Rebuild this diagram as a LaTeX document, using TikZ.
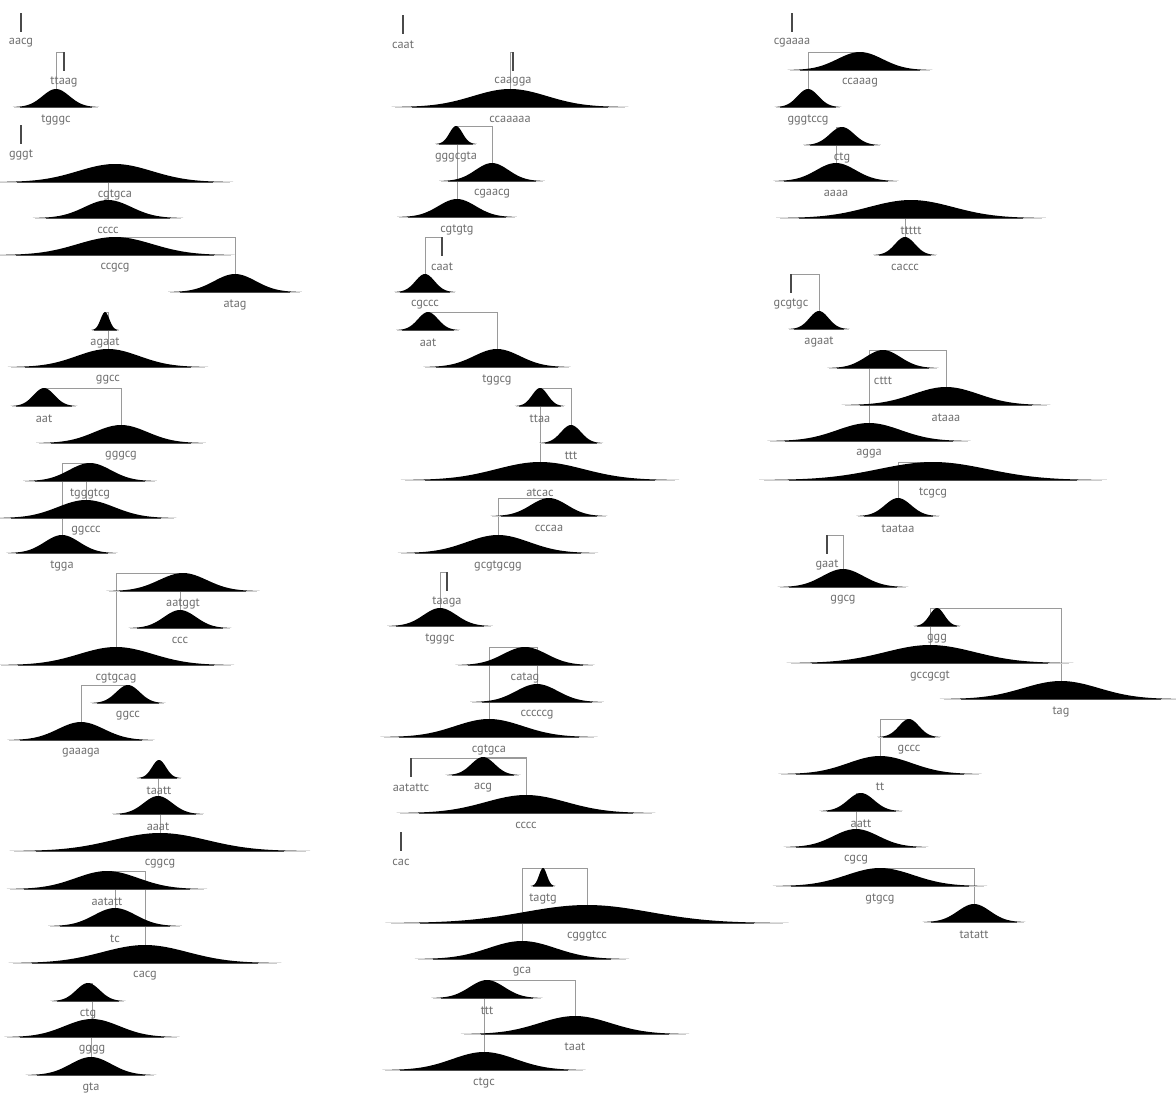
\documentclass[tikz,border=0pt]{standalone}
\usepackage{fontspec}
\setsansfont{PT Sans}
\usepackage{tikz}
\usetikzlibrary{backgrounds}
\definecolor{inkDark}{HTML}{000000}
\definecolor{labGray}{HTML}{6E6E6E}
\definecolor{linkGray}{HTML}{9A9A9A}
\definecolor{stubGray}{HTML}{4A4A4A}
\tikzset{
  seqlabel/.style={font=\sffamily\fontsize{7}{8}\selectfont, text=labGray,
    inner sep=0pt},
  bumpfill/.style={fill=inkDark},
  baseln/.style={draw=inkDark!70, line width=0.45pt},
  basefade/.style={draw=inkDark!20, line width=0.4pt},
  stubline/.style={draw=stubGray, line width=1.2pt},
  link/.style={draw=linkGray, line width=0.55pt},
}
% #1 name, #2 peak x, #3 baseline y, #4 half width, #5 label
\newcommand{\bump}[5]{%
  \draw[basefade] ({#2-1.35*#4},#3) -- ({#2+1.35*#4},#3);
  \draw[baseln] ({#2-1.15*#4},#3) -- ({#2+1.15*#4},#3);
  \fill[bumpfill] plot[domain=-3.2:3.2, samples=41, smooth]
    ({#2+(\x)*#4/2.3},{#3-18*exp(-0.5*(\x)*(\x))}) -- cycle;
  \coordinate (#1) at (#2,{#3-18});
  \node[seqlabel] (#1-l) at (#2,{#3+12.5}) {#5};}
% #1 name, #2 x, #3 top y, #4 label
\newcommand{\stub}[4]{%
  \coordinate (#1) at (#2,#3);
  \draw[stubline] (#1) -- ++(0,18.5);
  \node[seqlabel] (#1-l) at (#2,{#3+30}) {#4};}
\begin{document}
\begin{tikzpicture}[x=0.02cm, y=-0.02cm]
  \useasboundingbox (0,0) rectangle (1176,1093);
  % column one
  \stub{s1}{21}{13}{aacg}
  \stub{s2}{64}{52}{ttaag}
  \bump{b1}{56}{107}{31}{tgggc}
  \stub{s3}{21}{125}{gggt}
  \bump{b2}{115}{182}{85}{cgtgca}
  \bump{b3}{108}{218}{54}{cccc}
  \bump{b4}{115}{255}{86}{ccgcg}
  \bump{b5}{235}{292}{48}{atag}
  \bump{b6}{105}{330}{10}{agaat}
  \bump{b7}{108}{367}{72}{ggcc}
  \bump{b8}{44}{406}{24}{aat}
  \bump{b9}{121}{443}{61}{gggcg}
  \bump{b10}{90}{481}{48}{tgggtcg}
  \bump{b11}{86}{518}{65}{ggccc}
  \bump{b12}{62}{553}{40}{tgga}
  \bump{b13}{183}{591}{55}{aatggt}
  \bump{b14}{180}{628}{37}{ccc}
  \bump{b15}{116}{665}{85}{cgtgcag}
  \bump{b16}{128}{703}{27}{ggcc}
  \bump{b17}{81}{740}{53}{gaaaga}
  \bump{b18}{159}{778}{16}{taatt}
  \bump{b19}{158}{814}{33}{aaat}
  \bump{b20}{160}{851}{108}{cggcg}
  \bump{b21}{107}{889}{72}{aatatt}
  \bump{b22}{115}{926}{48}{tc}
  \bump{b23}{145}{963}{98}{cacg}
  \bump{b24}{88}{1001}{27}{ctg}
  \bump{b25}{92}{1037}{63}{gggg}
  \bump{b26}{91}{1075}{47}{gta}
  % column two
  \stub{s4}{403}{15}{caat}
  \stub{s5}{513}{52}{caagga}
  \bump{c1}{510}{107}{85}{ccaaaaa}
  \bump{c2}{456}{144}{15}{gggcgta}
  \bump{c3}{492}{181}{38}{cgaacg}
  \bump{c4}{457}{217}{43}{cgtgtg}
  \stub{s6}{442}{237}{caat}
  \bump{c5}{425}{292}{22}{cgccc}
  \bump{c6}{428}{330}{23}{aat}
  \bump{c7}{497}{367}{53}{tggcg}
  \bump{c8}{540}{406}{18}{ttaa}
  \bump{c9}{571}{443}{23}{ttt}
  \bump{c10}{540}{480}{100}{atcac}
  \bump{c11}{549}{516}{42}{cccaa}
  \bump{c12}{498}{553}{72}{gcgtgcgg}
  \stub{s7}{447}{572}{taaga}
  \bump{c13}{440}{626}{38}{tgggc}
  \bump{c14}{525}{665}{50}{catag}
  \bump{c15}{537}{702}{48}{cccccg}
  \bump{c16}{489}{737}{78}{cgtgca}
  \bump{c17}{483}{775}{27}{acg}
  \stub{s8}{411}{758}{aatattc}
  \bump{c18}{526}{813}{93}{cccc}
  \stub{s9}{401}{832}{cac}
  \bump{c19}{543}{886}{9}{tagtg}
  \bump{c20}{587}{923}{145}{cgggtcc}
  \bump{c21}{522}{959}{77}{gca}
  \bump{c22}{487}{998}{40}{ttt}
  \bump{c23}{575}{1034}{82}{taat}
  \bump{c24}{484}{1070}{73}{ctgc}
  % column three
  \stub{s10}{792}{13}{cgaaaa}
  \bump{d1}{860}{70}{52}{ccaaag}
  \bump{d2}{808}{107}{24}{gggtccg}
  \bump{d3}{842}{145}{28}{ctg}
  \bump{d4}{836}{181}{45}{aaaa}
  \bump{d5}{911}{218}{97}{ttttt}
  \bump{d6}{905}{255}{23}{caccc}
  \stub{s11}{791}{274}{gcgtgc}
  \bump{d7}{819}{329}{22}{agaat}
  \bump{d8}{883}{368}{40}{cttt}
  \bump{d9}{946}{405}{75}{ataaa}
  \bump{d10}{869}{441}{73}{agga}
  \bump{d11}{933}{480}{125}{tcgcg}
  \bump{d12}{898}{516}{30}{taataa}
  \stub{s12}{827}{535}{gaat}
  \bump{d13}{843}{587}{47}{ggcg}
  \bump{d14}{937}{626}{17}{ggg}
  \bump{d15}{930}{663}{103}{gccgcgt}
  \bump{d16}{1061}{699}{87}{tag}
  \bump{d17}{909}{737}{23}{gccc}
  \bump{d18}{880}{774}{73}{tt}
  \bump{d19}{861}{811}{30}{aatt}
  \bump{d20}{856}{847}{52}{cgcg}
  \bump{d21}{880}{886}{77}{gtgcg}
  \bump{d22}{974}{922}{37}{tatatt}
  % links behind the bumps
  \begin{scope}[on background layer]
    \foreach \a/\b in {s2/b1, b2/b3, b4/b5, b6/b7, b8/b9, b10/b12, b10/b11,
        b13/b15, b13/b14, b16/b17, b18/b19, b19/b20, b21/b23, b21/b22,
        b24/b25, b25/b26,
        s5/c1, c2/c3, c2/c4, s6/c5, c6/c7, c8/c9, c8/c10, c11/c12, s7/c13,
        c14/c15, c14/c16, s8/c18, c17/c18, c19/c20, c19/c21, c22/c23, c22/c24,
        d1/d2, d3/d4, d5/d6, s11/d7, d8/d9, d8/d10, d11/d12, s12/d13,
        d14/d16, d14/d15, d17/d18, d19/d20, d21/d22}
      \draw[link] (\a) -| (\b);
  \end{scope}
\end{tikzpicture}
\end{document}
